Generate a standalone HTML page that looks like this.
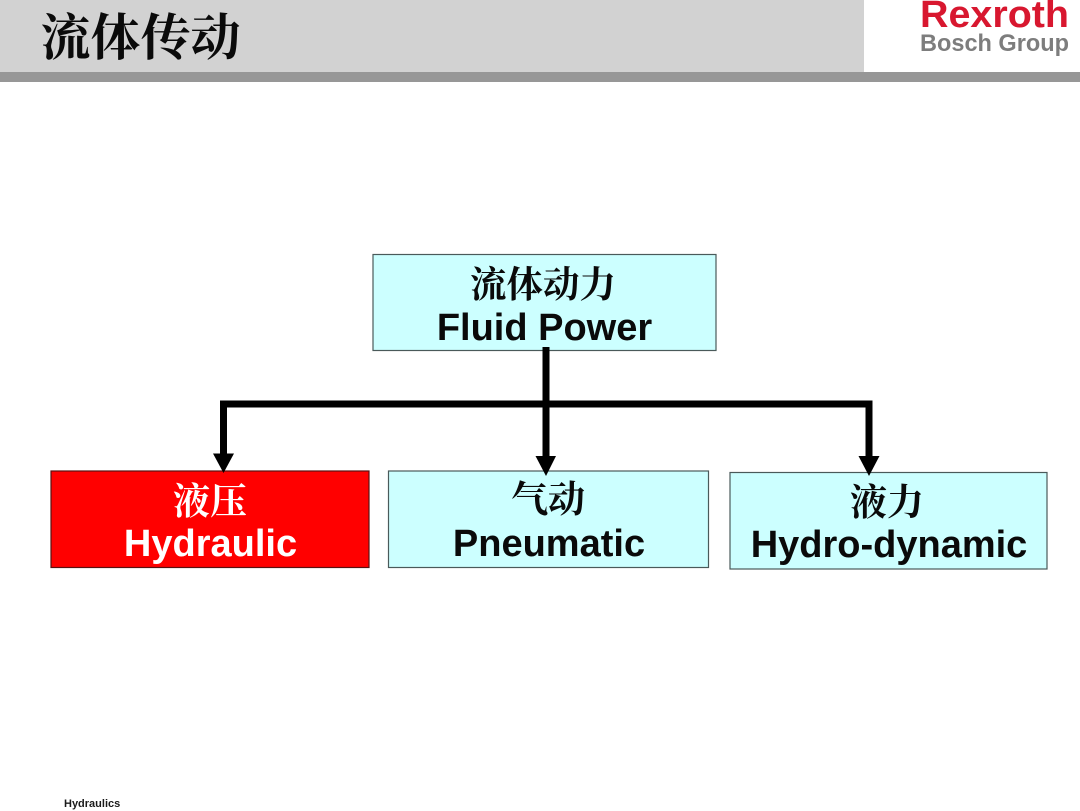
<!DOCTYPE html>
<html lang="zh">
<head>
<meta charset="utf-8">
<title>流体传动</title>
<style>
html,body{margin:0;padding:0;background:#fff}
#p{position:relative;width:1080px;height:811px;overflow:hidden;background:#fff}
svg{position:absolute;left:0;top:0}
.s{font-family:"Liberation Sans",sans-serif;font-weight:700}
.c{font-family:"Liberation Serif","Noto Serif CJK SC",serif;font-weight:700}
</style>
</head>
<body>
<div id="p">
<svg width="1080" height="811" viewBox="0 0 1080 811" xmlns="http://www.w3.org/2000/svg">
  <rect x="0" y="0" width="864" height="72" fill="#d2d2d2"/>
  <rect x="864" y="0" width="216" height="72" fill="#ffffff"/>
  <rect x="0" y="72" width="1080" height="10" fill="#979797"/>
  <text class="c" x="140.500" y="55" font-size="50" text-anchor="middle" fill="#0a0a0a">流体传动</text>
  <text class="s" x="920" y="27" font-size="38" textLength="149" lengthAdjust="spacingAndGlyphs" fill="#d8172f">Rexroth</text>
  <text class="s" x="920" y="51" font-size="24" textLength="149" lengthAdjust="spacingAndGlyphs" fill="#7d7d7d">Bosch Group</text>

  <rect x="373" y="254.500" width="343" height="96" fill="#ccffff" stroke="#4a5a5a" stroke-width="1.200"/>
  <rect x="51" y="471" width="318" height="96.500" fill="#ff0000" stroke="#5a1010" stroke-width="1.200"/>
  <rect x="388.500" y="471" width="320" height="96.500" fill="#ccffff" stroke="#4a5a5a" stroke-width="1.200"/>
  <rect x="730" y="472.500" width="317" height="96.500" fill="#ccffff" stroke="#4a5a5a" stroke-width="1.200"/>

  <g fill="#000">
    <rect x="542.500" y="347" width="7" height="110"/>
    <rect x="220" y="400.500" width="652.500" height="7"/>
    <rect x="220" y="400.500" width="7" height="56"/>
    <rect x="865.500" y="400.500" width="7" height="58"/>
    <polygon points="213,453.500 234,453.500 223.500,473"/>
    <polygon points="535.500,456 556,456 546,476"/>
    <polygon points="858.500,456 879.500,456 869,476"/>
  </g>

  <text class="c" x="543" y="297" font-size="36.500" text-anchor="middle" fill="#0a0a0a">流体动力</text>
  <text class="s" x="544.500" y="340" font-size="38" text-anchor="middle" fill="#0a0a0a">Fluid Power</text>

  <text class="c" x="210" y="514" font-size="37" text-anchor="middle" fill="#ffffff">液压</text>
  <text class="s" x="210.500" y="556" font-size="38" text-anchor="middle" fill="#ffffff">Hydraulic</text>

  <text class="c" x="548" y="512" font-size="37" text-anchor="middle" fill="#0a0a0a">气动</text>
  <text class="s" x="549" y="556" font-size="38" text-anchor="middle" fill="#0a0a0a">Pneumatic</text>

  <text class="c" x="887" y="515" font-size="37" text-anchor="middle" fill="#0a0a0a">液力</text>
  <text class="s" x="889" y="557" font-size="38" text-anchor="middle" fill="#0a0a0a">Hydro-dynamic</text>

  <text class="s" x="64" y="807" font-size="11" fill="#1a1a1a">Hydraulics</text>
</svg>
</div>
</body>
</html>
